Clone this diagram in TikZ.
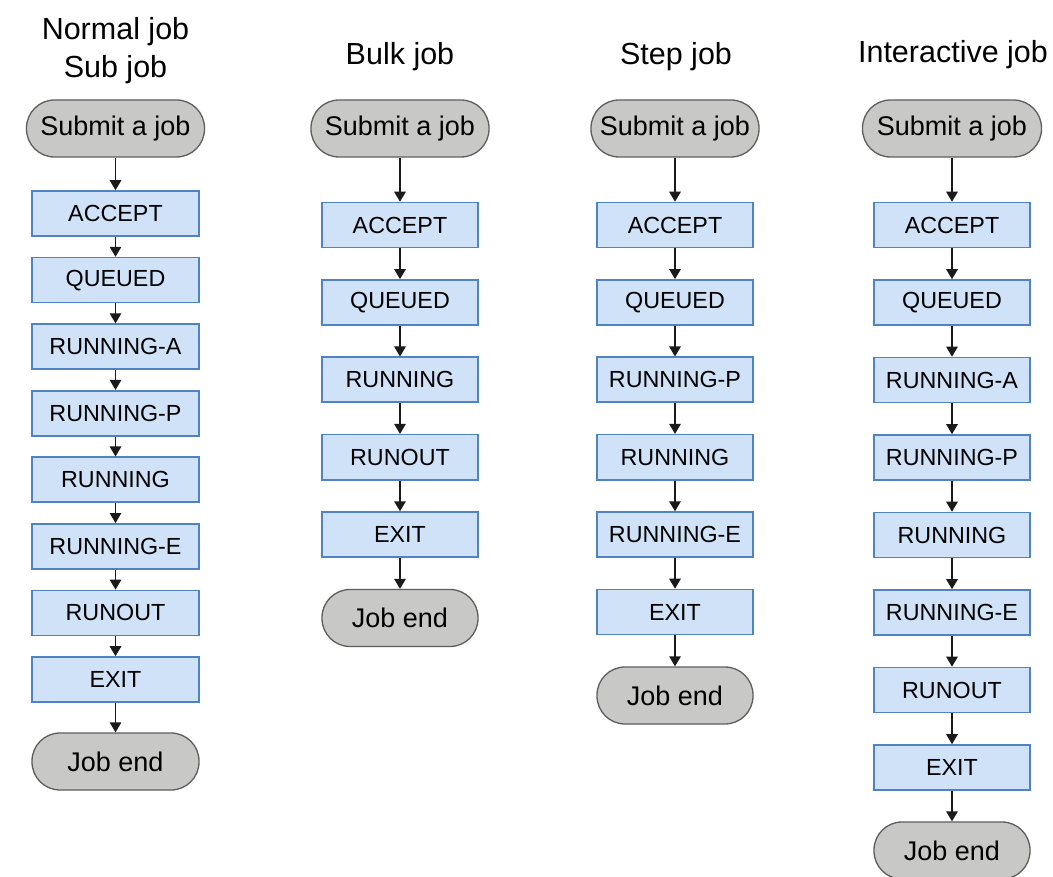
\documentclass[tikz,border=0pt]{standalone}
\usepackage{fontspec}
\setmainfont{Liberation Sans}
\usetikzlibrary{arrows.meta}
\definecolor{boxfill}{HTML}{CFE2F7}
\definecolor{boxline}{HTML}{4F83C2}
\definecolor{pillfill}{HTML}{C8C8C6}
\definecolor{pillline}{HTML}{5E5E5E}
\definecolor{arrline}{HTML}{1A1A1A}
\tikzset{
  stbox/.style={draw=boxline, fill=boxfill, line width=1.6pt, minimum height=45pt, inner sep=0pt,
    font=\fontsize{23.3}{28}\selectfont},
  pill/.style={draw=pillline, fill=pillfill, line width=1.3pt, minimum height=57pt, inner sep=0pt,
    rounded corners=28pt, font=\fontsize{27}{32}\selectfont},
  ttl/.style={font=\fontsize{30.5}{38}\selectfont, align=center, inner sep=0pt},
  arr/.style={draw=arrline, line width=1.4pt, -{Triangle[width=11.5pt,length=10pt]}}
}
\begin{document}
\begin{tikzpicture}[x=1pt,y=-1pt]
\useasboundingbox (0,0) rectangle (1053,877);
\fill[white] (0,0) rectangle (1053,877);

% ---------- Column 1: Normal job / Sub job
\node[ttl] (t1) at (115.5,51) {Normal job\\Sub job};
\node[pill, minimum width=178pt] (c1s) at (115.5,128.5) {Submit a job};
\foreach \t [count=\i] in {ACCEPT,QUEUED,RUNNING-A,RUNNING-P,RUNNING,RUNNING-E,RUNOUT,EXIT}
  \node[stbox, minimum width=167pt] (c1b\i) at (115.5,{213.5+(\i-1)*66.57}) {\t};
\node[pill, minimum width=167pt] (c1e) at (115.5,761.5) {Job end};
\draw[arr] (c1s) -- (c1b1);
\foreach \i [evaluate=\i as \j using int(\i+1)] in {1,...,7}
  \draw[arr] (c1b\i) -- (c1b\j);
\draw[arr] (c1b8) -- (c1e);

% ---------- Column 2: Bulk job
\node[ttl] (t2) at (400,57) {Bulk job};
\node[pill, minimum width=178pt] (c2s) at (400,128.5) {Submit a job};
\foreach \t [count=\i] in {ACCEPT,QUEUED,RUNNING,RUNOUT,EXIT}
  \node[stbox, minimum width=156pt] (c2b\i) at (400,{225+(\i-1)*77.4}) {\t};
\node[pill, minimum width=156pt] (c2e) at (400,618) {Job end};
\draw[arr] (c2s) -- (c2b1);
\foreach \i [evaluate=\i as \j using int(\i+1)] in {1,...,4}
  \draw[arr] (c2b\i) -- (c2b\j);
\draw[arr] (c2b5) -- (c2e);

% ---------- Column 3: Step job
\node[ttl] (t3) at (676,57) {Step job};
\node[pill, minimum width=168pt] (c3s) at (675,128.5) {Submit a job};
\foreach \t [count=\i] in {ACCEPT,QUEUED,RUNNING-P,RUNNING,RUNNING-E,EXIT}
  \node[stbox, minimum width=156pt] (c3b\i) at (675,{225+(\i-1)*77.4}) {\t};
\node[pill, minimum width=156pt] (c3e) at (675,695.5) {Job end};
\draw[arr] (c3s) -- (c3b1);
\foreach \i [evaluate=\i as \j using int(\i+1)] in {1,...,5}
  \draw[arr] (c3b\i) -- (c3b\j);
\draw[arr] (c3b6) -- (c3e);

% ---------- Column 4: Interactive job
\node[ttl] (t4) at (953,55) {Interactive job};
\node[pill, minimum width=179pt] (c4s) at (952,128.5) {Submit a job};
\foreach \t [count=\i] in {ACCEPT,QUEUED,RUNNING-A,RUNNING-P,RUNNING,RUNNING-E,RUNOUT,EXIT}
  \node[stbox, minimum width=156pt] (c4b\i) at (952,{225+(\i-1)*77.5}) {\t};
\node[pill, minimum width=156pt] (c4e) at (952,850.5) {Job end};
\draw[arr] (c4s) -- (c4b1);
\foreach \i [evaluate=\i as \j using int(\i+1)] in {1,...,7}
  \draw[arr] (c4b\i) -- (c4b\j);
\draw[arr] (c4b8) -- (c4e);
\end{tikzpicture}
\end{document}
